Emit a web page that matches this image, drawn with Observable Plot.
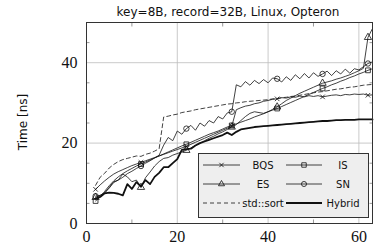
<!DOCTYPE html>
<html><head><meta charset="utf-8">
<script src="https://cdn.jsdelivr.net/npm/d3@7"></script>
<script src="https://cdn.jsdelivr.net/npm/@observablehq/plot@0.6"></script>
<style>body{margin:0;background:#fff}</style>
</head><body><div id="chart"></div>
<script>
const title = "key=8B, record=32B, Linux, Opteron";
const yLabel = "Time [ns]";
const xs = d3.range(2, 64);
const xTicks = [0, 20, 40, 60];
const yTicks = [0, 20, 40];
const xMinor = [10, 30, 50];
const yMinor = [5, 10, 15, 25, 30, 35, 45];
const markerXs = [2, 12, 22, 32, 42, 52, 62];

const bqs = [8.5,9.6,10.6,11.5,12.3,12.9,13.4,13.9,14.4,14.8,15.2,15.6,16.0,16.4,16.8,17.2,17.6,18.0,18.4,18.8,19.2,19.7,20.2,20.7,21.2,21.7,22.2,22.7,23.2,23.7,24.2,28.3,28.8,29.2,29.4,29.8,30.0,30.4,30.6,30.9,31.0,31.3,31.2,31.5,31.4,31.7,31.5,31.8,31.6,31.8,31.5,31.7,31.9,32.0,31.8,32.1,32.0,32.2,32.1,32.2,31.9,32.0];
const is = [5.6,6.6,8.0,9.4,10.6,11.6,12.4,13.1,13.7,14.3,14.8,15.3,15.8,16.3,16.8,17.3,17.8,18.3,18.8,19.3,19.7,20.2,20.7,21.2,21.7,22.2,22.6,23.0,23.5,24.0,24.4,24.8,25.2,25.6,26.0,26.5,26.9,27.3,27.8,28.2,28.6,29.1,29.6,30.1,30.6,31.1,31.6,32.1,32.6,33.1,33.6,34.0,34.5,34.9,35.4,35.8,36.3,36.7,37.2,37.6,38.1,38.5];
const es = [6.5,7.0,7.6,9.0,10.4,10.8,12.3,11.6,10.4,10.8,9.0,11.4,12.8,14.3,15.4,16.2,16.4,17.0,17.4,17.8,18.2,18.8,19.4,20.0,20.6,21.2,21.7,22.3,22.8,23.4,24.0,24.6,25.6,26.6,27.4,27.8,27.6,27.4,27.8,28.4,29.0,29.8,30.6,31.2,31.8,32.4,32.9,33.4,33.9,34.4,34.9,35.2,35.5,35.9,36.2,36.6,37.0,37.5,38.0,38.6,46.3,48.5];
const sn = [6.8,7.0,7.6,8.8,10.2,10.8,11.5,12.4,13.0,13.7,14.3,15.0,15.6,16.3,17.0,19.5,21.4,20.6,23.0,22.2,23.6,24.4,23.2,25.0,24.2,25.6,25.0,26.6,26.0,27.5,27.8,34.5,34.0,35.3,34.4,35.6,34.8,35.8,35.0,36.2,36.0,35.2,36.5,35.6,37.0,36.0,37.3,36.2,37.5,36.6,37.2,37.9,36.8,38.0,37.2,38.4,37.4,38.5,38.2,39.0,39.8,40.2];
const stdsort = [9.5,11.5,12.5,13.8,14.7,15.4,15.9,16.2,16.5,16.8,16.7,17.2,17.5,18.0,18.6,26.5,26.7,27.0,27.2,27.6,27.8,28.0,28.3,28.5,28.7,28.9,29.1,29.3,29.5,29.7,29.8,30.0,30.1,30.3,30.4,30.5,30.6,30.7,30.8,31.0,31.1,31.3,31.4,31.6,31.7,31.9,32.1,32.3,32.5,32.7,32.8,33.0,33.2,33.4,33.5,33.7,33.9,34.0,34.2,34.4,34.5,34.6];
const hybrid = [6.2,6.6,7.5,7.7,7.6,7.4,7.0,9.8,8.6,10.3,9.2,10.8,9.8,11.6,12.6,14.0,14.0,15.0,16.0,18.3,18.5,18.6,19.4,20.0,20.4,20.8,21.2,21.6,22.0,22.6,22.0,22.8,23.4,23.6,23.8,24.0,24.1,24.2,24.3,24.4,24.5,24.6,24.7,24.8,24.9,25.0,25.1,25.2,25.3,25.4,25.5,25.5,25.6,25.7,25.7,25.8,25.8,25.8,25.9,25.9,25.9,25.9];

const seriesNames = ["BQS", "IS", "ES", "SN", "std::sort", "Hybrid"];
const seriesValues = [bqs, is, es, sn, stdsort, hybrid];
const seriesSymbols = ["times", "square", "triangle", "circle", null, null];
const seriesDash = [null, null, null, null, "4,3", null];
const seriesWidth = [0.8, 0.8, 0.8, 0.8, 0.8, 1.8];

const series = seriesNames.map((name, k) => ({
  name, symbol: seriesSymbols[k], dash: seriesDash[k], width: seriesWidth[k],
  data: seriesValues[k].map((v, i) => ({x: xs[i], y: v}))
}));

const marks = [
  Plot.gridX(xTicks.slice(1), {stroke: "#bdbdbd", strokeOpacity: 1, strokeWidth: 0.8}),
  Plot.gridY(yTicks.slice(1), {stroke: "#bdbdbd", strokeOpacity: 1, strokeWidth: 0.8}),
  Plot.axisX(xMinor, {anchor: "bottom", tickSize: -3.5, tickFormat: () => "", stroke: "#999", label: null}),
  Plot.axisX(xMinor, {anchor: "top", tickSize: -3.5, tickFormat: () => "", stroke: "#999", label: null}),
  Plot.axisY(yMinor, {anchor: "left", tickSize: -3.5, tickFormat: () => "", stroke: "#999", label: null}),
  Plot.axisY(yMinor, {anchor: "right", tickSize: -3.5, tickFormat: () => "", stroke: "#999", label: null}),
  Plot.axisX(xTicks, {anchor: "bottom", tickSize: 0, tickPadding: 7, fontFamily: "Liberation Serif", fontSize: 16, fill: "#111", label: null}),
  Plot.axisY(yTicks, {anchor: "left", tickSize: 0, tickPadding: 9, fontFamily: "Liberation Serif", fontSize: 16, fill: "#111", label: null}),
];
for (const s of series) {
  marks.push(Plot.line(s.data, {x: "x", y: "y", stroke: "#111", strokeWidth: s.width, strokeDasharray: s.dash}));
}
for (const s of series) {
  if (!s.symbol) continue;
  marks.push(Plot.dot(s.data.filter(d => markerXs.includes(d.x)), {x: "x", y: "y", symbol: s.symbol, r: s.symbol === "times" ? 2.2 : 2.7, stroke: "#111", strokeWidth: 0.8, fill: "none"}));
}
marks.push(Plot.frame({stroke: "#333", strokeWidth: 1}));

const chart = Plot.plot({
  width: 378, height: 248,
  marginLeft: 86, marginRight: 6, marginTop: 22, marginBottom: 25,
  x: {domain: [0, 63]},
  y: {domain: [0, 50]},
  style: {background: "#fff"},
  marks
});
document.getElementById("chart").append(chart);

const svg = d3.select(chart);
svg.append("text").attr("x", 228).attr("y", 16).attr("text-anchor", "middle")
  .attr("font-family", "DejaVu Sans").attr("font-size", 12).attr("fill", "#111").text(title);
svg.append("text").attr("transform", "translate(27,122) rotate(-90)").attr("text-anchor", "middle")
  .attr("font-family", "DejaVu Sans").attr("font-size", 12).attr("fill", "#111").text(yLabel);

// legend
const lg = svg.append("g");
lg.append("rect").attr("x", 198.5).attr("y", 153.5).attr("width", 170).attr("height", 64)
  .attr("fill", "#eeeeee").attr("stroke", "#333").attr("stroke-width", 1);
const cols = [{lx0: 203, lx1: 240, tx: 263}, {lx0: 286, lx1: 322, tx: 343}];
const rowsY = [165, 184, 203];
const symPath = {
  times: d3.symbol(d3.symbolTimes, 14)(),
  square: d3.symbol(d3.symbolSquare, 20)(),
  triangle: d3.symbol(d3.symbolTriangle, 16)(),
  circle: d3.symbol(d3.symbolCircle, 20)()
};
series.forEach((s, k) => {
  const c = cols[k % 2], y = rowsY[Math.floor(k / 2)];
  lg.append("line").attr("x1", c.lx0).attr("x2", c.lx1).attr("y1", y).attr("y2", y)
    .attr("stroke", "#111").attr("stroke-width", s.width).attr("stroke-dasharray", s.dash);
  if (s.symbol) {
    lg.append("path").attr("d", symPath[s.symbol]).attr("transform", `translate(${(c.lx0 + c.lx1) / 2},${y})`)
      .attr("fill", "none").attr("stroke", "#111").attr("stroke-width", 0.8);
  }
  lg.append("text").attr("x", c.tx).attr("y", y).attr("dy", "0.35em").attr("text-anchor", "middle")
    .attr("font-family", "DejaVu Sans").attr("font-size", 10).attr("fill", "#111").text(s.name);
});
</script></body></html>
